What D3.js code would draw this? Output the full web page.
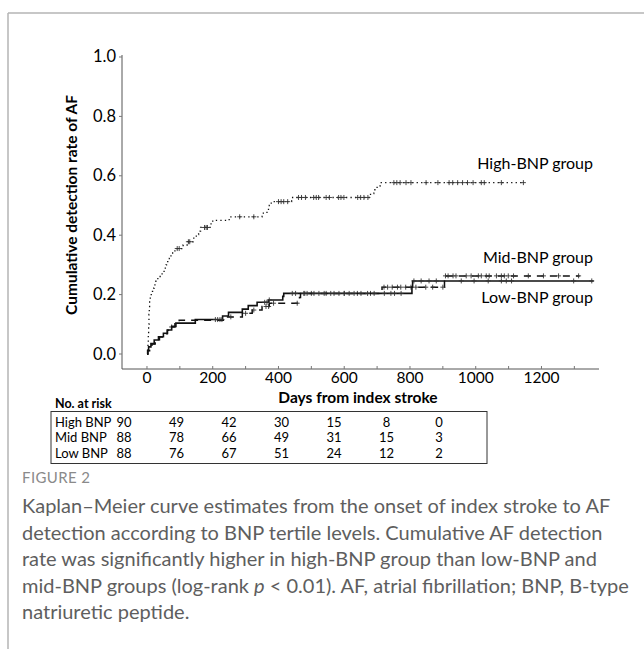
<!DOCTYPE html>
<html>
<head>
<meta charset="utf-8">
<script src="https://cdn.jsdelivr.net/npm/d3@7"></script>
<style>
  body { margin: 0; background: white; }
  text { font-family: Lato, "Open Sans", sans-serif; }
</style>
</head>
<body>
<div id="viz-container"></div>
<script>

// step events: [day, cumulative rate]
let highSteps = [[0,0],[2,0.011],[3,0.033],[4,0.067],[5,0.1],[6,0.133],[7,0.156],[8,0.178],[10,0.2],[13,0.211],[17,0.222],[22,0.233],[27,0.245],[33,0.256],[40,0.267],[46,0.278],[52,0.289],[58,0.3],[63,0.311],[68,0.322],[73,0.333],[78,0.344],[85,0.355],[110,0.367],[125,0.378],[140,0.39],[150,0.402],[157,0.414],[163,0.426],[192,0.438],[200,0.45],[250,0.462],[350,0.474],[365,0.487],[372,0.5],[378,0.513],[440,0.527],[680,0.54],[690,0.553],[700,0.566],[710,0.577]];
let midSteps = [[0,0],[3,0.011],[8,0.023],[15,0.034],[25,0.045],[38,0.057],[50,0.068],[62,0.08],[72,0.091],[85,0.102],[98,0.114],[240,0.125],[290,0.137],[320,0.148],[350,0.16],[372,0.171],[464,0.19],[467,0.204],[715,0.225],[905,0.263]];
let lowSteps = [[0,0],[2,0.012],[5,0.024],[12,0.035],[22,0.047],[35,0.058],[50,0.07],[62,0.081],[75,0.093],[88,0.104],[147,0.116],[230,0.128],[248,0.14],[290,0.151],[308,0.163],[335,0.174],[370,0.182],[413,0.194],[416,0.204],[806,0.225],[808,0.246]];

let highEnd = 1148;
let midEnd = 1316;
let lowEnd = 1359;

let highCensor = [92,98,126,130,175,180,184,282,325,400,408,416,428,461,470,482,507,515,522,545,555,583,590,599,641,650,660,672,751,760,770,788,803,849,885,919,930,945,960,975,992,1017,1026,1078,1145];
let midCensor = [75,255,300,325,362,370,385,457,480,500,545,600,640,680,721,732,746,762,772,787,803,818,848,869,900,908,916,931,940,971,986,1008,1017,1032,1041,1063,1078,1087,1099,1115,1160,1206,1252,1313];
let lowCensor = [208,215,222,228,358,365,372,442,452,477,487,508,523,539,559,569,584,600,615,630,651,671,691,722,742,753,773,812,834,858,880,956,995,1038,1078,1093,1109,1298,1353];

let groupLabels = ["High-BNP group","Mid-BNP group","Low-BNP group"];

let riskDays = [0,200,400,600,800,1000,1200];
let riskNames = ["High BNP","Mid BNP","Low BNP"];
let riskHigh = [90,49,42,30,15,8,0];
let riskMid = [88,78,66,49,31,15,3];
let riskLow = [88,76,67,51,24,12,2];

let xTicks = [0,100,200,300,400,500,600,700,800,900,1000,1100,1200,1300];
let xLabels = [0,200,400,600,800,1000,1200];
let yTicks = [0,0.2,0.4,0.6,0.8,1.0];

let captionLines = [
  "Kaplan\u2013Meier curve estimates from the onset of index stroke to AF",
  "detection according to BNP tertile levels. Cumulative AF detection",
  "rate was significantly higher in high-BNP group than low-BNP and",
  "mid-BNP groups (log-rank |p| < 0.01). AF, atrial fibrillation; BNP, B-type",
  "natriuretic peptide."
];

let viz = d3.select("#viz-container")
                .append("svg")
                    .attr("width", 644)
                    .attr("height", 649)
;

// page frame
viz.append("line").attr("x1",8).attr("x2",644).attr("y1",13).attr("y2",13)
    .attr("stroke","#b5b5b5").attr("stroke-width",1.5);
viz.append("line").attr("x1",8).attr("x2",8).attr("y1",13).attr("y2",649)
    .attr("stroke","#b5b5b5").attr("stroke-width",1.5);

let x = d3.scaleLinear().domain([-76,1375]).range([122,599]);
let y = d3.scaleLinear().domain([-0.0505,1.0067]).range([369,55]);

// axes
viz.append("line").attr("x1",x(-76)).attr("x2",x(1375)).attr("y1",y(-0.0505)).attr("y2",y(-0.0505))
    .attr("stroke","#555").attr("stroke-width",1);
viz.append("line").attr("x1",x(-76)).attr("x2",x(-76)).attr("y1",y(-0.0505)).attr("y2",y(1.0067))
    .attr("stroke","#555").attr("stroke-width",1);

viz.selectAll(".xtick").data(xTicks).enter().append("line")
    .attr("class","xtick")
    .attr("x1",d=>x(d)).attr("x2",d=>x(d))
    .attr("y1",369).attr("y2",366)
    .attr("stroke","#777")
;
viz.selectAll(".xlab").data(xLabels).enter().append("text")
    .attr("class","xlab")
    .attr("x",d=>x(d)).attr("y",383)
    .attr("text-anchor","middle")
    .attr("font-size","15.5px")
    .text(d=>d)
;
viz.selectAll(".ytick").data(yTicks).enter().append("line")
    .attr("class","ytick")
    .attr("x1",122).attr("x2",119)
    .attr("y1",d=>y(d)).attr("y2",d=>y(d))
    .attr("stroke","#777")
;
viz.selectAll(".ylab").data(yTicks).enter().append("text")
    .attr("class","ylab")
    .attr("x",116).attr("y",d=>y(d)+5.5)
    .attr("text-anchor","end")
    .attr("font-size","16.5px")
    .text(d=>d.toFixed(1))
;

viz.append("text")
    .attr("x",358).attr("y",403)
    .attr("text-anchor","middle")
    .attr("font-size","15.5px").attr("font-weight","bold")
    .text("Days from index stroke");

viz.append("text")
    .attr("transform","translate(77,205) rotate(-90)")
    .attr("text-anchor","middle")
    .attr("font-size","15.5px").attr("font-weight","bold")
    .text("Cumulative detection rate of AF");

// KM curves
let kmLine = d3.line()
    .x(d=>x(d[0]))
    .y(d=>y(d[1]))
    .curve(d3.curveStepAfter);

function withEnd(steps, end){
    return steps.concat([[end, steps[steps.length-1][1]]]);
}
function rateAt(steps, day){
    let i = d3.bisector(d=>d[0]).right(steps, day) - 1;
    return steps[Math.max(i,0)][1];
}

let curves = [
    {steps: highSteps, end: highEnd, censor: highCensor, dash: "1.3,3.2", width: 1.3},
    {steps: midSteps, end: midEnd, censor: midCensor, dash: "7,6", width: 1.5},
    {steps: lowSteps, end: lowEnd, censor: lowCensor, dash: null, width: 1.6}
];

curves.forEach(function(c){
    viz.append("path")
        .attr("d",kmLine(withEnd(c.steps,c.end)))
        .attr("fill","none")
        .attr("stroke","#111")
        .attr("stroke-width",c.width)
        .attr("stroke-dasharray",c.dash)
    ;
    let marks = viz.selectAll(null).data(c.censor).enter().append("g")
        .attr("transform",d=>"translate("+x(d)+","+y(rateAt(c.steps,d))+")");
    marks.append("line").attr("x1",-2.5).attr("x2",2.5).attr("y1",0).attr("y2",0)
        .attr("stroke","#333").attr("stroke-width",0.9);
    marks.append("line").attr("x1",0).attr("x2",0).attr("y1",-2.5).attr("y2",2.5)
        .attr("stroke","#333").attr("stroke-width",0.9);
});

// group labels
let labelRates = [rateAt(highSteps,1200)+0.064, rateAt(midSteps,1200)+0.063, rateAt(lowSteps,1200)-0.055];
viz.selectAll(".glab").data(groupLabels).enter().append("text")
    .attr("class","glab")
    .attr("x",593)
    .attr("y",(d,i)=>y(labelRates[i])+5.5)
    .attr("text-anchor","end")
    .attr("font-size","16px")
    .text(d=>d)
;

// number at risk table
viz.append("text")
    .attr("x",55).attr("y",408)
    .attr("font-size","12.5px").attr("font-weight","bold")
    .text("No. at risk");
viz.append("rect")
    .attr("x",51).attr("y",411.5).attr("width",436).attr("height",52)
    .attr("fill","none").attr("stroke","#333").attr("stroke-width",1);

let col = d3.scalePoint().domain(riskDays).range([124,439]);
let row = d3.scalePoint().domain(riskNames).range([422,453]);
let riskRows = [riskHigh, riskMid, riskLow];

riskNames.forEach(function(name,i){
    viz.append("text")
        .attr("x",55).attr("y",row(name)+4.5)
        .attr("font-size","13px")
        .text(name);
    viz.selectAll(null).data(riskRows[i]).enter().append("text")
        .attr("x",(d,j)=>col(riskDays[j]))
        .attr("y",row(name)+4.5)
        .attr("text-anchor","middle")
        .attr("font-size","13px")
        .text(d=>d);
});

// caption
viz.append("text")
    .attr("x",22).attr("y",483)
    .attr("font-family","'Open Sans', sans-serif")
    .attr("font-size","15px")
    .attr("letter-spacing","0.4px")
    .attr("fill","#8a8a8a")
    .text("FIGURE 2");

let cap = viz.append("text")
    .attr("font-family","'Open Sans', sans-serif")
    .attr("font-size","20px")
    .attr("fill","#5e5e5e");
captionLines.forEach(function(line,i){
    let parts = line.split("|");
    parts.forEach(function(p,k){
        let t = cap.append("tspan").text(p);
        if(k==0) t.attr("x",22).attr("y",513+i*26.6);
        if(k==1) t.attr("font-style","italic");
    });
});

</script>
</body>
</html>
